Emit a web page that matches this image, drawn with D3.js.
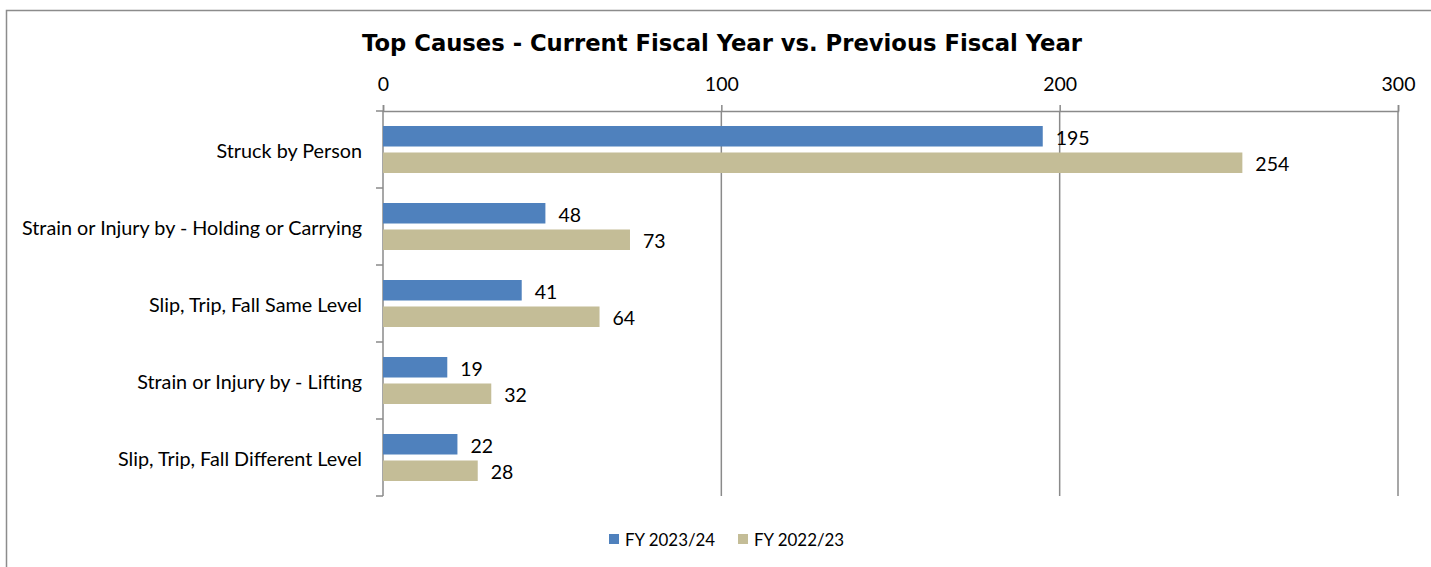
<!DOCTYPE html>
<html>
<head>
<meta charset="utf-8">
<script src="https://cdn.jsdelivr.net/npm/d3@7"></script>
<style>
  body { margin: 0; background: #fff; }
  text { font-family: Lato, "Open Sans", sans-serif; fill: #000; }
</style>
</head>
<body>
<svg id="chart" width="1431" height="567"></svg>
<script>
const categories = [
  "Struck by Person",
  "Strain or Injury by - Holding or Carrying",
  "Slip, Trip, Fall Same Level",
  "Strain or Injury by - Lifting",
  "Slip, Trip, Fall Different Level"
];
const seriesNames = ["FY 2023/24", "FY 2022/23"];
const current = [195, 48, 41, 19, 22];
const previous = [254, 73, 64, 32, 28];
const xTicks = [0, 100, 200, 300];
const colors = ["#4F81BD", "#C4BD97"];

let svg = d3.select("#chart");

// outer frame
svg.append("rect")
  .attr("x", 6.5).attr("y", 10.5)
  .attr("width", 1440).attr("height", 600)
  .attr("fill", "none")
  .attr("stroke", "#8c8c8c")
  .attr("stroke-width", 1.5);

svg.append("text")
  .attr("x", 722)
  .attr("y", 51)
  .attr("text-anchor", "middle")
  .style("font-family", "'DejaVu Sans', Verdana, sans-serif")
  .style("font-weight", "bold")
  .style("font-size", "22.7px")
  .text("Top Causes - Current Fiscal Year vs. Previous Fiscal Year");

let x = d3.scaleLinear().domain([0, 300]).range([383, 1398]);
let y = d3.scaleBand().domain(categories).range([111, 496]).padding(0);
let ySub = d3.scaleBand().domain(seriesNames).range([15, 62]).paddingInner(0.226).paddingOuter(0);

// gridlines
svg.append("g")
  .selectAll("line")
  .data(xTicks.slice(1))
  .enter().append("line")
  .attr("x1", d => x(d)).attr("x2", d => x(d))
  .attr("y1", 111).attr("y2", 496)
  .attr("stroke", "#8a8a8a")
  .attr("stroke-width", 1.5);

// top axis
let xAxis = d3.axisTop(x).tickValues(xTicks).tickSize(6).tickPadding(14).tickFormat(d3.format("d"));
let gx = svg.append("g")
  .attr("transform", "translate(0,111)")
  .call(xAxis);
gx.select(".domain").attr("stroke", "#8a8a8a").attr("stroke-width", 1.5);
gx.selectAll(".tick line").attr("stroke", "#8a8a8a").attr("stroke-width", 1.5);
gx.selectAll(".tick text")
  .attr("dy", "0")
  .style("font-size", "19.5px")
  .style("font-family", "Lato, sans-serif")
  .attr("fill", "#000");

// left axis with ticks between categories
let gy = svg.append("g");
gy.append("line")
  .attr("x1", 383).attr("x2", 383)
  .attr("y1", 111).attr("y2", 496)
  .attr("stroke", "#8a8a8a").attr("stroke-width", 1.5);
gy.selectAll(".ytick")
  .data(categories.map(c => y(c)).concat([y.range()[1]]))
  .enter().append("line")
  .attr("x1", 376).attr("x2", 383)
  .attr("y1", d => d).attr("y2", d => d)
  .attr("stroke", "#8a8a8a").attr("stroke-width", 1.5);
gy.selectAll(".ylab")
  .data(categories)
  .enter().append("text")
  .attr("x", 362)
  .attr("y", d => y(d) + y.bandwidth() / 2)
  .attr("text-anchor", "end")
  .attr("dominant-baseline", "central")
  .style("font-size", "19.8px")
  .text(d => d);

// bars
let rows = [];
categories.forEach((c, i) => {
  rows.push({ cat: c, series: seriesNames[0], value: current[i], color: colors[0] });
  rows.push({ cat: c, series: seriesNames[1], value: previous[i], color: colors[1] });
});

svg.append("g")
  .selectAll("rect")
  .data(rows)
  .enter().append("rect")
  .attr("x", x(0))
  .attr("y", d => y(d.cat) + ySub(d.series))
  .attr("width", d => x(d.value) - x(0))
  .attr("height", ySub.bandwidth())
  .attr("fill", d => d.color);

svg.append("g")
  .selectAll("text")
  .data(rows)
  .enter().append("text")
  .attr("x", d => x(d.value) + 13)
  .attr("y", d => y(d.cat) + ySub(d.series) + ySub.bandwidth() / 2 + 1)
  .attr("dominant-baseline", "central")
  .style("font-size", "19.5px")
  .text(d => d.value);

// legend
let legendX = [609, 738];
let legend = svg.append("g");
seriesNames.forEach((s, i) => {
  legend.append("rect")
    .attr("x", legendX[i]).attr("y", 534)
    .attr("width", 10).attr("height", 10)
    .attr("fill", colors[i]);
  legend.append("text")
    .attr("x", legendX[i] + 16)
    .attr("y", 539.5)
    .attr("dominant-baseline", "central")
    .style("font-size", "16.9px")
    .text(s);
});
</script>
</body>
</html>
